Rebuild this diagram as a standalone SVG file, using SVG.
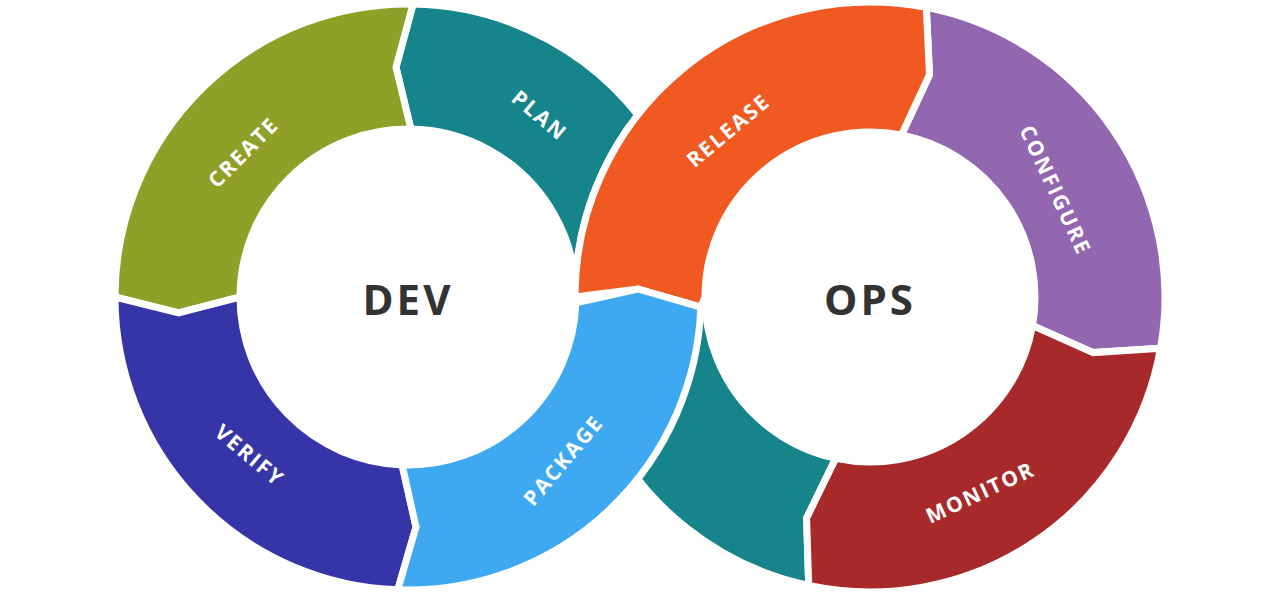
<svg xmlns="http://www.w3.org/2000/svg" width="1280" height="600" viewBox="0 0 1280 600">
<style>
.seg{stroke:#fff;stroke-width:7;stroke-linejoin:miter}
.lbl{font-family:"Open Sans","Liberation Sans",sans-serif;font-weight:bold;font-size:21px;fill:#fff;letter-spacing:2px;text-anchor:middle;dominant-baseline:central}
.hub{font-family:"Open Sans","Liberation Sans",sans-serif;font-weight:bold;font-size:42px;fill:#333;letter-spacing:3px;text-anchor:middle;dominant-baseline:central}
</style>
<rect width="1280" height="600" fill="#fff"/>
<g id="plan">
<path class="seg" fill="#15858b" d="M661.7,443.5 A293 293 0 0 0 413.1,4 L396,67.3 L410.9,129 A168 168 0 0 1 553.5,381 Z"/>
</g>
<g id="ops-teal">
<path class="seg" fill="#15858b" d="M808.7,585.5 A295 295 0 0 1 628.3,127.8 L734.8,202.4 A165 165 0 0 0 835.7,458.4 L806.6,518.1 Z"/>
</g>
<g id="create">
<path class="seg" fill="#8ea027" d="M413.1,4 A293 293 0 0 0 115,297 L178.6,313 L240,297 A168 168 0 0 1 410.9,129 L396,67.3 Z"/>
<text class="lbl" transform="translate(243,152) rotate(-45)">CREATE</text>
</g>
<g id="verify">
<path class="seg" fill="#3535a8" d="M115,297 A293 293 0 0 0 397.8,589.8 L416,526.9 L402.1,464.9 A168 168 0 0 1 240,297 L178.6,313 Z"/>
<text class="lbl" transform="translate(250,455) rotate(40)">VERIFY</text>
</g>
<g id="configure">
<path class="seg" fill="#9366b0" d="M926.3,7.4 A295 295 0 0 1 1160.5,348.2 L1093.2,352.6 L1032.5,325.6 A165 165 0 0 0 901.5,135 L929.5,74.8 Z"/>
<text class="lbl" transform="translate(1056,190) rotate(65)">CONFIGURE</text>
</g>
<g id="monitor">
<path class="seg" fill="#a8292a" d="M1160.5,348.2 A295 295 0 0 1 808.7,585.5 L806.6,518.1 L835.7,458.4 A165 165 0 0 0 1032.5,325.6 L1093.2,352.6 Z"/>
<text class="lbl" transform="translate(980,492) rotate(-25)">MONITOR</text>
</g>
<g id="release">
<path class="seg" fill="#f05a22" d="M575,297 A295 295 0 0 1 926.3,7.4 L929.5,74.8 L901.5,135 A165 165 0 0 0 705,297 L700.8,307.2 L637.9,289 Z"/>
<text class="lbl" transform="translate(728,130) rotate(-40)">RELEASE</text>
</g>
<g id="package">
<path class="seg" fill="#3ea9f0" d="M397.8,589.8 A293 293 0 0 0 700.8,307.2 L637.9,289 L575.9,302.9 A168 168 0 0 1 402.1,464.9 L416,526.9 Z"/>
<text class="lbl" transform="translate(563,460) rotate(-50)">PACKAGE</text>
</g>
<text class="lbl" transform="translate(540,115) rotate(40)">PLAN</text>
<g id="dev"><text class="hub" x="408" y="298">DEV</text></g>
<g id="ops"><text class="hub" x="870" y="298">OPS</text></g>
</svg>
